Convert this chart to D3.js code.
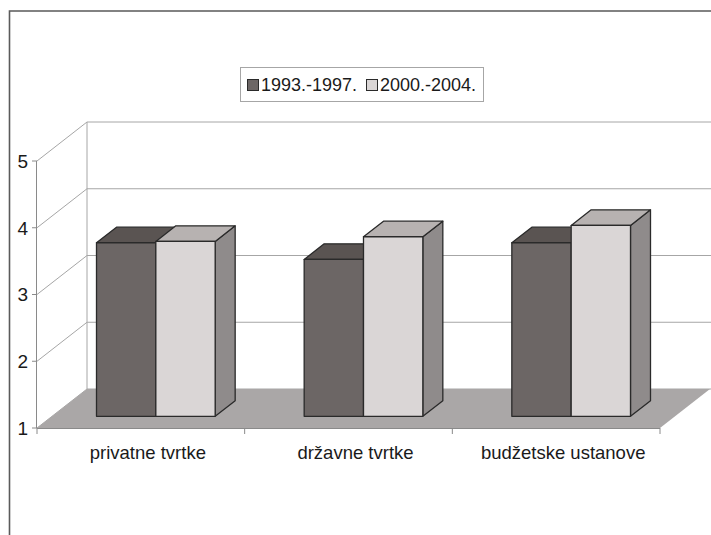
<!DOCTYPE html>
<html>
<head>
<meta charset="utf-8">
<script src="https://cdn.jsdelivr.net/npm/d3@7"></script>
<style>
  html, body { margin: 0; padding: 0; background: #fff; }
  svg { display: block; font-family: Arial, "Liberation Sans", sans-serif; }
</style>
</head>
<body>
<svg id="chart" width="711" height="535"></svg>
<script>
// Survey scores by employer type, two periods
const categories = ["privatne tvrtke", "državne tvrtke", "budžetske ustanove"];
const seriesNames = ["1993.-1997.", "2000.-2004."];
const values1993 = [3.60, 3.35, 3.60];
const values2000 = [3.62, 3.69, 3.86];
const yTicks = [1, 2, 3, 4, 5];

const seriesValues = [values1993, values2000];

// Colours: front, top, side faces of each series' columns
const palette = [
  { front: "#6c6665", top: "#5a5452", side: "#4e4948" },
  { front: "#dad6d6", top: "#b7b2b1", side: "#8f8b8b" }
];

const svg = d3.select("#chart");

// Oblique 3D projection: depth d in [0,1] shifts right and up
const DX = 50, DY = 39;
const x = d3.scaleBand().domain(categories).range([37, 660]).paddingInner(0).paddingOuter(0);
const xs = d3.scaleBand().domain(seriesNames).range([0, x.bandwidth()]).paddingInner(0).paddingOuter(0.75);
const y = d3.scaleLinear().domain([1, 5]).range([428, 161]);
const P = (px, v, d) => [px + d * DX, y(v) - d * DY];
const poly = pts => "M" + pts.map(p => p.join(",")).join("L") + "Z";

const [x0, x1] = x.range();
const [vMin, vMax] = y.domain();

// Outer frame of the chart area
svg.append("path")
  .attr("d", `M9.5,535 L9.5,11 L711,11`)
  .attr("fill", "none").attr("stroke", "#5a5a5a").attr("stroke-width", 1.6);

const grid = svg.append("g").attr("stroke", "#a6a6a6").attr("stroke-width", 1).attr("fill", "none");

// Back wall: gridlines, left edge
yTicks.forEach(v => {
  const a = P(x0, v, 1), b = P(x1 + 1, v, 1);
  grid.append("line").attr("x1", a[0]).attr("y1", a[1]).attr("x2", b[0]).attr("y2", b[1]);
});
{
  const a = P(x0, vMin, 1), b = P(x0, vMax, 1);
  grid.append("line").attr("x1", a[0]).attr("y1", a[1]).attr("x2", b[0]).attr("y2", b[1]);
}
// Side wall: diagonal gridlines
yTicks.forEach(v => {
  const a = P(x0, v, 0), b = P(x0, v, 1);
  grid.append("line").attr("x1", a[0]).attr("y1", a[1]).attr("x2", b[0]).attr("y2", b[1]);
});

// Floor
svg.append("path")
  .attr("d", poly([P(x0, vMin, 0), P(x1, vMin, 0), P(x1, vMin, 1), P(x0, vMin, 1)]))
  .attr("fill", "#aaa7a7").attr("stroke", "none");

// Front value axis and category axis
const axisG = svg.append("g").attr("stroke", "#8a8a8a").attr("stroke-width", 1).attr("fill", "none");
{
  const a = P(x0, vMin, 0), b = P(x0, vMax, 0);
  axisG.append("line").attr("x1", a[0] - 0.5).attr("y1", a[1]).attr("x2", b[0] - 0.5).attr("y2", b[1]);
  const c = P(x1, vMin, 0);
  axisG.append("line").attr("x1", a[0]).attr("y1", a[1] + 0.5).attr("x2", c[0]).attr("y2", c[1] + 0.5);
}
yTicks.forEach(v => {
  const a = P(x0, v, 0);
  axisG.append("line").attr("x1", a[0] - 5).attr("y1", a[1]).attr("x2", a[0]).attr("y2", a[1]);
});
const catEdges = categories.map(c => x(c)).concat([x1]);
catEdges.forEach(cx => {
  const a = P(cx, vMin, 0);
  axisG.append("line").attr("x1", a[0]).attr("y1", a[1]).attr("x2", a[0]).attr("y2", a[1] + 6);
});

// Value labels
svg.append("g").selectAll("text").data(yTicks).join("text")
  .attr("x", 28).attr("y", d => y(d)).attr("dy", "0.36em")
  .attr("text-anchor", "end").attr("font-size", 19).attr("fill", "#1a1a1a")
  .text(d => d);

// Category labels
svg.append("g").selectAll("text").data(categories).join("text")
  .attr("x", d => x(d) + x.bandwidth() / 2 + 7).attr("y", 459)
  .attr("text-anchor", "middle").attr("font-size", 18.5).attr("fill", "#1a1a1a")
  .text(d => d);

// Columns, drawn left to right so each hides the previous one's side face
const D0 = 0.3, D1 = 0.7;
const bars = svg.append("g").attr("stroke", "#2a2a2a").attr("stroke-width", 1.3).attr("stroke-linejoin", "round");
categories.forEach((cat, ci) => {
  seriesNames.forEach((s, si) => {
    const v = seriesValues[si][ci];
    const L = x(cat) + xs(s), R = L + xs.bandwidth();
    const col = palette[si];
    // side face
    bars.append("path").attr("fill", col.side)
      .attr("d", poly([P(R, vMin, D0), P(R, vMin, D1), P(R, v, D1), P(R, v, D0)]));
    // top face
    bars.append("path").attr("fill", col.top)
      .attr("d", poly([P(L, v, D0), P(R, v, D0), P(R, v, D1), P(L, v, D1)]));
    // front face
    bars.append("path").attr("fill", col.front)
      .attr("d", poly([P(L, vMin, D0), P(R, vMin, D0), P(R, v, D0), P(L, v, D0)]));
  });
});

// Legend
const legend = svg.append("g");
legend.append("rect").attr("x", 240.5).attr("y", 67.5).attr("width", 243).attr("height", 34)
  .attr("fill", "#fff").attr("stroke", "#a6a6a6").attr("stroke-width", 1);
const legendX = [247, 366];
seriesNames.forEach((s, i) => {
  legend.append("rect").attr("x", legendX[i] + 0.5).attr("y", 79.5).attr("width", 11).attr("height", 11)
    .attr("fill", palette[i].front).attr("stroke", "#2a2a2a").attr("stroke-width", 1);
  legend.append("text").attr("x", legendX[i] + 14).attr("y", 85).attr("dy", "0.36em")
    .attr("font-size", 18).attr("fill", "#1a1a1a").text(s);
});
</script>
</body>
</html>
